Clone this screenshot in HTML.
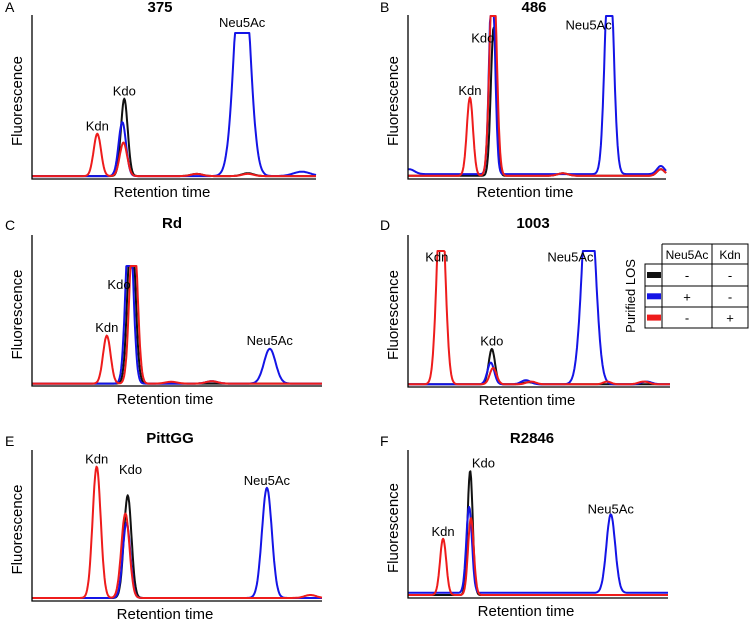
<!DOCTYPE html>
<html><head><meta charset="utf-8">
<style>
html,body{margin:0;padding:0;background:#fff;}
svg{display:block;font-family:"Liberation Sans",Arial,sans-serif;}
</style></head>
<body>
<svg id="fig" width="750" height="625" viewBox="0 0 750 625"></svg>
<script>
// Data: peaks as [position % of retention axis, height % of clip level, width %]
const A_black = [[32.5,53,1.2],[58,1.5,2],[76,2,2]];
const A_blue  = [[31.8,37,1.3],[74,160,2.6],[95,3,3]];
const A_red   = [[23,29,1.3],[32.2,23,1.3],[58,1.5,2],[76,1.5,2]];
const B_black = [[33.2,91,1.1],[60,1.5,2],[98,4,1.5]];
const B_blue  = [[0.5,3,2],[32.6,125,1.1],[78,140,1.6],[98,5,1.5]];
const B_red   = [[24,48,1.2],[33.0,135,1.3],[60,1.5,2],[98,4,1.5]];
const C_black = [[34.3,140,1.3]];
const C_blue  = [[33.6,140,1.3],[82,29,2],[62,2,2]];
const C_red   = [[25.8,40,1.3],[35,140,1.3],[48,1.5,2],[62,2,2]];
const D_black = [[32,26,1.2],[46,1.5,2]];
const D_blue  = [[31.6,16,1.3],[69,157,2.4],[45,3,1.8],[91,2,2]];
const D_red   = [[12.6,143,1.6],[32.5,12,1.3],[47,2,1.8],[76,2,1.5],[90,2,2]];
const E_black = [[33,68,1.3]];
const E_blue  = [[81,73,1.7],[32.6,50,1.3]];
const E_red   = [[22.3,87,1.4],[32.2,56,1.4],[96,2,2]];
const F_black = [[23.9,84,1.0]];
const F_blue  = [[23.5,58,1.1],[78,53,1.7]];
const F_red   = [[13.5,38,1.2],[24.2,52,1.1]];
const panelTitles = ["375","486","Rd","1003","PittGG","R2846"];
const panelLetters = ["A","B","C","D","E","F"];
const baseline = [2,2,2,2,2,2];
const blueBase = [0,1,0,0,0,1.5];

const NS="http://www.w3.org/2000/svg";
const svg=document.getElementById('fig');
function mk(tag,attrs,parent){const e=document.createElementNS(NS,tag);for(const k in attrs)e.setAttribute(k,attrs[k]);(parent||svg).appendChild(e);return e;}

const geom=[
 {x0:32,x1:316,yb:179,ytop:15,clip:33,lx:5,ly:12,tx:160,ty:12},
 {x0:408,x1:666,yb:179,ytop:15,clip:16,lx:380,ly:12,tx:534,ty:12},
 {x0:32,x1:322,yb:386,ytop:235,clip:266,lx:5,ly:230,tx:172,ty:228},
 {x0:408,x1:670,yb:387,ytop:235,clip:251,lx:380,ly:230,tx:533,ty:228},
 {x0:32,x1:322,yb:601,ytop:450,clip:450,lx:5,ly:446,tx:170,ty:443},
 {x0:408,x1:668,yb:598,ytop:450,clip:450,lx:380,ly:446,tx:532,ty:443}
];
const series=[[A_black,A_blue,A_red],[B_black,B_blue,B_red],[C_black,C_blue,C_red],[D_black,D_blue,D_red],[E_black,E_blue,E_red],[F_black,F_blue,F_red]];
const colors=["#111111","#1414e6","#ee1c1c"];
const sname=["black-trace","blue-trace","red-trace"];
const labels=[
 [["Kdn",23,29],["Kdo",32.5,53],["Neu5Ac",74,100]],
 [["Kdn",24,48],["Kdo",29,80],["Neu5Ac",70,88]],
 [["Kdn",25.8,40],["Kdo",30,76],["Neu5Ac",82,29]],
 [["Kdn",11,88],["Kdo",32,26],["Neu5Ac",62,88]],
 [["Kdn",22.3,87],["Kdo",34,80],["Neu5Ac",81,73]],
 [["Kdn",13.5,38],["Kdo",29,84],["Neu5Ac",78,53]]
];

geom.forEach((g,i)=>{
 const grp=mk('g',{});
 
 
 const xs=v=>g.x0+v/100*(g.x1-g.x0);
 const ys=v=>g.yb-Math.min(v,100)/100*(g.yb-g.clip);
 const t=mk('text',{x:g.lx,y:g.ly,'font-size':14},grp);t.textContent=panelLetters[i];
 
 const tt=mk('text',{x:g.tx,y:g.ty,'font-size':15,'font-weight':'bold','text-anchor':'middle'},grp);tt.textContent=panelTitles[i];
 
 series[i].forEach((pk,s)=>{
  let d="";
  for(let k=0;k<=400;k++){
   const p=k/4;let v=baseline[i]+(s==1?blueBase[i]:0);
   pk.forEach(q=>{v+=q[1]*Math.exp(-0.5*Math.pow((p-q[0])/q[2],2));});
   d+=(k?"L":"M")+xs(p).toFixed(1)+","+ys(v).toFixed(1);
  }
  const pa=mk('path',{d:d,fill:'none',stroke:colors[s],'stroke-width':2,'stroke-linejoin':'round'},grp);
  
  
 });
 const ax=mk('path',{d:`M${g.x0},${g.ytop}L${g.x0},${g.yb}L${g.x1},${g.yb}`,fill:'none',stroke:'#000','stroke-width':1.3},grp);
 
 const yl=mk('text',{x:0,y:0,'font-size':15,'text-anchor':'middle',transform:`translate(${g.x0-10},${(g.ytop+g.yb)/2+4}) rotate(-90)`},grp);
 yl.textContent="Fluorescence";
 const xl=mk('text',{x:(g.x0+g.x1)/2-12,y:g.yb+18,'font-size':15,'text-anchor':'middle'},grp);
 xl.textContent="Retention time";
 labels[i].forEach(l=>{
  const e=mk('text',{x:xs(l[1]),y:ys(l[2])-6,'font-size':13,'text-anchor':'middle'},grp);
  e.textContent=l[0];
  
  
 });
});

// legend table
const lg=mk('g',{});


mk('path',{d:"M662,244H748V328H645V264H748M645,286H748M645,307H748M645,264V328M662,244V328M712,244V328M748,244V328",fill:'none',stroke:'#000','stroke-width':1},lg);
const hdr=[["Neu5Ac",687],["Kdn",730]];
hdr.forEach(h=>{const e=mk('text',{x:h[1],y:259,'font-size':12,'text-anchor':'middle'},lg);e.textContent=h[0];
 });
const rows=[["-","-"],["+","-"],["-","+"]];
rows.forEach((r,j)=>{
 const y=275+j*21.3;
 const sw=mk('rect',{x:647,y:y-3,width:14,height:6,fill:colors[j]},lg);
 
 r.forEach((c,m)=>{const e=mk('text',{x:m?730:687,y:y+5,'font-size':13,'text-anchor':'middle'},lg);e.textContent=c;
  });
});
const pl=mk('text',{x:0,y:0,'font-size':13,'text-anchor':'middle',transform:'translate(635,296) rotate(-90)'},lg);
pl.textContent="Purified LOS";
</script>
</body></html>
